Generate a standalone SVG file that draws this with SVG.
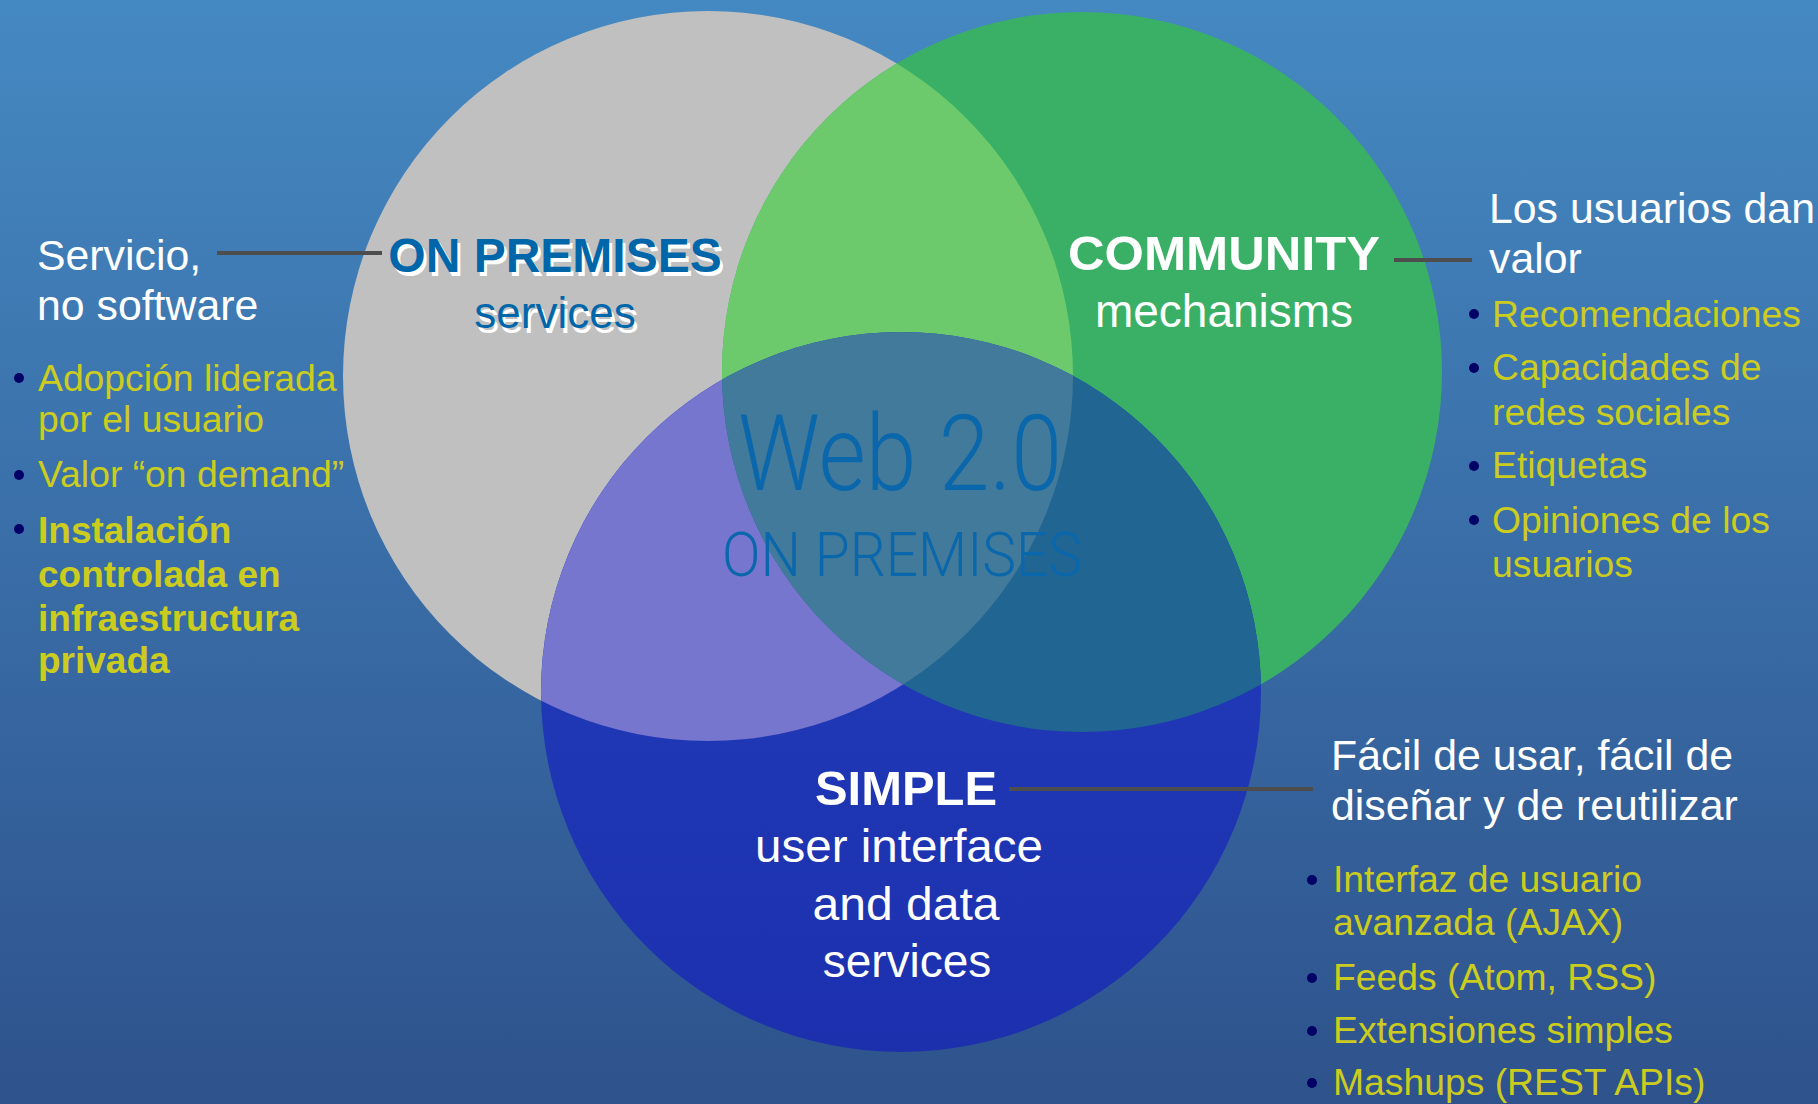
<svg xmlns="http://www.w3.org/2000/svg" width="1818" height="1104" viewBox="0 0 1818 1104">
<defs>
<linearGradient id="bg" x1="0" y1="0" x2="0" y2="1">
<stop offset="0" stop-color="#4589c2"/>
<stop offset="1" stop-color="#2e528c"/>
</linearGradient>
<linearGradient id="blueg" x1="0" y1="0" x2="0" y2="1">
<stop offset="0" stop-color="#2340bd"/>
<stop offset="1" stop-color="#1c30ae"/>
</linearGradient>
<clipPath id="cGray"><circle cx="708" cy="376" r="365"/></clipPath>
<clipPath id="cGreen"><circle cx="1082" cy="372" r="360"/></clipPath>
</defs>
<style>
text{font-family:"Liberation Sans",Arial,sans-serif}
.wt{fill:#ffffff;font-size:42.8px}
.yl{fill:#cccc1e;font-size:37.3px}
.yb{fill:#cccc1e;font-size:37px;font-weight:bold}
.dot{fill:#000066}
.conn{stroke:#4d4d4d;stroke-width:4;fill:none}
.hd{font-size:48px;font-weight:bold;text-anchor:middle}
.sub{font-size:46px;text-anchor:middle;fill:#ffffff}
.web{font-family:Roboto,"Liberation Sans",sans-serif;font-weight:300;fill:#0b67ab;text-anchor:middle}
</style>
<rect x="0" y="0" width="1818" height="1104" fill="url(#bg)"/>

<g id="venn">
<circle id="gray-circle" cx="708" cy="376" r="365" fill="#c0c0c0"/>
<circle id="green-circle" cx="1082" cy="372" r="360" fill="#3ab067"/>
<circle id="blue-circle" cx="901" cy="692" r="360" fill="url(#blueg)"/>
<circle cx="1082" cy="372" r="360" fill="#6cca6c" clip-path="url(#cGray)"/>
<circle cx="901" cy="692" r="360" fill="#7676cf" clip-path="url(#cGray)"/>
<circle cx="901" cy="692" r="360" fill="#216592" clip-path="url(#cGreen)"/>
<g clip-path="url(#cGray)"><circle cx="901" cy="692" r="360" fill="#427a9b" clip-path="url(#cGreen)"/></g>
</g>

<g id="connectors">
<line class="conn" x1="217" y1="253" x2="382" y2="253"/>
<line class="conn" x1="1394" y1="260" x2="1472" y2="260"/>
<line class="conn" x1="1009" y1="789" x2="1313" y2="789"/>
</g>

<g id="center-title">
<text class="web" x="900" y="490" font-size="106" textLength="324" lengthAdjust="spacingAndGlyphs">Web 2.0</text>
<text class="web" x="902" y="576" font-size="61" textLength="360" lengthAdjust="spacingAndGlyphs">ON PREMISES</text>
</g>

<g id="node-onpremises">
<text class="hd" x="558" y="276" fill="#ffffff">ON PREMISES</text>
<text class="hd" x="555" y="272" fill="#0066aa">ON PREMISES</text>
<text x="558" y="333" font-size="44" text-anchor="middle" fill="#ffffff">services</text>
<text x="555" y="328" font-size="44" text-anchor="middle" fill="#0066aa">services</text>
</g>

<g id="node-community">
<text class="hd" x="1224" y="270" fill="#ffffff" textLength="312" lengthAdjust="spacingAndGlyphs">COMMUNITY</text>
<text class="sub" x="1224" y="327">mechanisms</text>
</g>

<g id="node-simple">
<text class="hd" x="906" y="805" fill="#ffffff" textLength="182" lengthAdjust="spacingAndGlyphs">SIMPLE</text>
<text class="sub" x="899" y="862" textLength="288" lengthAdjust="spacingAndGlyphs">user interface</text>
<text class="sub" x="906" y="920" textLength="187" lengthAdjust="spacingAndGlyphs">and data</text>
<text class="sub" x="907" y="977">services</text>
</g>

<g id="note-left">
<text class="wt" x="37" y="270">Servicio,</text>
<text class="wt" x="37" y="320">no software</text>
<circle class="dot" cx="19" cy="378" r="5"/>
<text class="yl" x="38" y="391">Adopción liderada</text>
<text class="yl" x="38" y="432">por el usuario</text>
<circle class="dot" cx="19" cy="475" r="5"/>
<text class="yl" x="38" y="487">Valor “on demand”</text>
<circle class="dot" cx="19" cy="529" r="5"/>
<text class="yb" x="38" y="543">Instalación</text>
<text class="yb" x="38" y="587">controlada en</text>
<text class="yb" x="38" y="631">infraestructura</text>
<text class="yb" x="38" y="673">privada</text>
</g>

<g id="note-right">
<text class="wt" x="1489" y="223">Los usuarios dan</text>
<text class="wt" x="1489" y="273">valor</text>
<circle class="dot" cx="1474" cy="314" r="5"/>
<text class="yl" x="1492" y="327">Recomendaciones</text>
<circle class="dot" cx="1474" cy="368" r="5"/>
<text class="yl" x="1492" y="380">Capacidades de</text>
<text class="yl" x="1492" y="425">redes sociales</text>
<circle class="dot" cx="1474" cy="466" r="5"/>
<text class="yl" x="1492" y="478">Etiquetas</text>
<circle class="dot" cx="1474" cy="520" r="5"/>
<text class="yl" x="1492" y="533">Opiniones de los</text>
<text class="yl" x="1492" y="577">usuarios</text>
</g>

<g id="note-bottom">
<text class="wt" x="1331" y="770">Fácil de usar, fácil de</text>
<text class="wt" x="1331" y="820">diseñar y de reutilizar</text>
<circle class="dot" cx="1312" cy="880" r="5"/>
<text class="yl" x="1333" y="892">Interfaz de usuario</text>
<text class="yl" x="1333" y="935">avanzada (AJAX)</text>
<circle class="dot" cx="1312" cy="978" r="5"/>
<text class="yl" x="1333" y="990">Feeds (Atom, RSS)</text>
<circle class="dot" cx="1312" cy="1031" r="5"/>
<text class="yl" x="1333" y="1043">Extensiones simples</text>
<circle class="dot" cx="1312" cy="1083" r="5"/>
<text class="yl" x="1333" y="1095">Mashups (REST APIs)</text>
</g>
</svg>
